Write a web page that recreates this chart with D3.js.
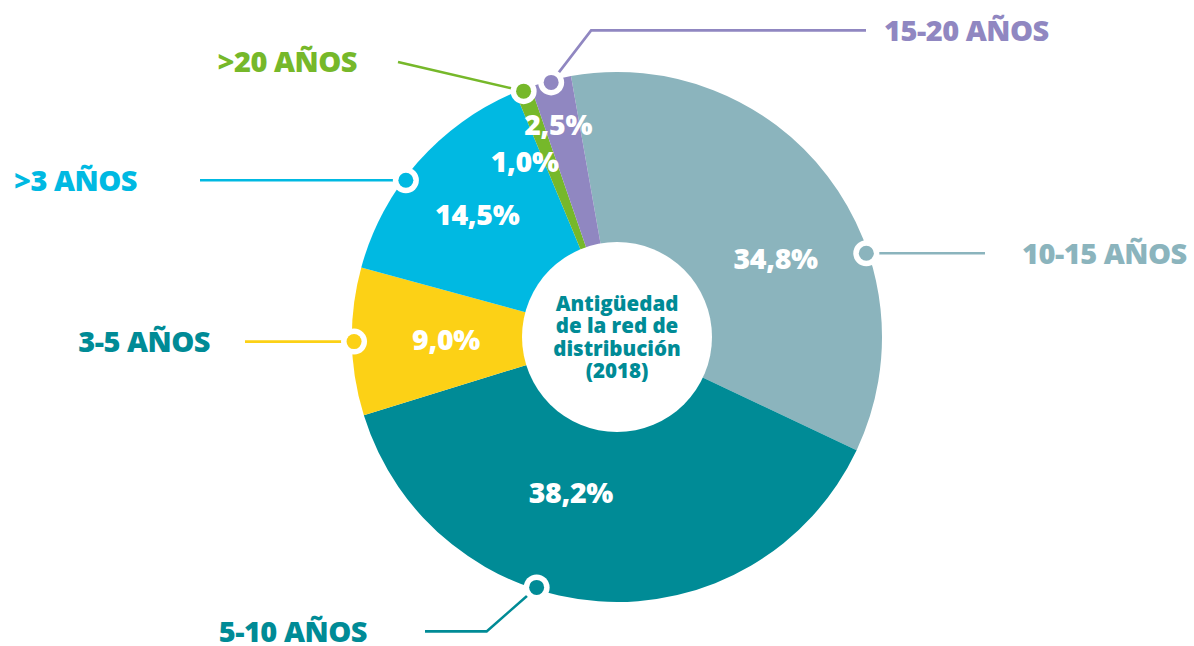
<!DOCTYPE html>
<html>
<head>
<meta charset="utf-8">
<script src="https://cdn.jsdelivr.net/npm/d3@7"></script>
<style>
  body { margin: 0; background: #fff; }
  svg { display: block; font-family: "Open Sans", "Noto Sans", sans-serif; }
</style>
</head>
<body>
<div id="chart"></div>
<script>
// data (clockwise from the top)
const categories = ["10-15 AÑOS", "5-10 AÑOS", "3-5 AÑOS", ">3 AÑOS", ">20 AÑOS", "15-20 AÑOS"];
const shares = [34.8, 38.2, 9.0, 14.5, 1.0, 2.5];
const sliceColors = ["#8bb4bd", "#008b96", "#fcd116", "#00b9e2", "#76b82a", "#9087c1"];
const labelColors = ["#8bb4bd", "#008b96", "#008b96", "#00b9e2", "#76b82a", "#9087c1"];
const centerTitle = ["Antigüedad", "de la red de", "distribución", "(2018)"];

// label layout: marker position along the slice, leader path, text placement,
// and the radius / angle nudge (degrees) of the white percentage
const labelLayout = [
  { t: 0.65, bend: null, endX: 985, endY: null, anchor: "start", textX: 1022, pctR: 177, pctDA: 11 },
  { t: 0.60, bend: [-50, 44], endX: 425, endY: null, anchor: "end", textX: 367, pctR: 162, pctDA: 12.5 },
  { t: 0.50, bend: null, endX: 245, endY: null, anchor: "end", textX: 210, pctR: 171, pctDA: 0 },
  { t: 0.41, bend: null, endX: 200, endY: null, anchor: "end", textX: 137, pctR: 186, pctDA: 0 },
  { t: 0.50, bend: null, endX: 398, endY: 62, anchor: "end", textX: 357, pctR: 198, pctDA: -7 },
  { t: 0.50, bend: [40, -52], endX: 866, endY: null, anchor: "start", textX: 884, pctR: 220, pctDA: -1 }
];

const width = 1194, height = 646;
const cx = 617, cy = 337;
const outerR = 265, innerR = 95;

const svg = d3.select("#chart").append("svg")
  .attr("width", width)
  .attr("height", height);

const g = svg.append("g").attr("transform", `translate(${cx},${cy})`);

const startAngle = -10 * Math.PI / 180;
const pie = d3.pie()
  .value(d => d)
  .sort(null)
  .startAngle(startAngle)
  .endAngle(startAngle + 2 * Math.PI);

const arcs = pie(shares);
const arc = d3.arc().innerRadius(0).outerRadius(outerR);

g.selectAll("path.slice")
  .data(arcs)
  .join("path")
  .attr("class", "slice")
  .attr("d", arc)
  .attr("fill", (d, i) => sliceColors[i]);

// white center
g.append("circle")
  .attr("r", innerR)
  .attr("fill", "#fff");

const fmt = v => d3.format(".1f")(v).replace(".", ",") + "%";
const polar = (a, r) => [r * Math.sin(a), -r * Math.cos(a)];
const rad = deg => deg * Math.PI / 180;

// percentages
g.selectAll("text.pct")
  .data(arcs)
  .join("text")
  .attr("class", "pct")
  .attr("transform", (d, i) => {
    const L = labelLayout[i];
    const p = polar((d.startAngle + d.endAngle) / 2 + rad(L.pctDA), L.pctR);
    return `translate(${p[0]},${p[1]})`;
  })
  .attr("text-anchor", "middle")
  .attr("dy", "0.36em")
  .attr("fill", "#fff")
  .attr("font-size", 28.5)
  .attr("font-weight", 800)
  .attr("letter-spacing", -0.3)
  .text(d => fmt(d.value));

// leader lines + markers + category labels
arcs.forEach((d, i) => {
  const L = labelLayout[i];
  const a = d.startAngle + (d.endAngle - d.startAngle) * L.t;
  const m = polar(a, outerR - 2);
  const pts = [[m[0] + cx, m[1] + cy]];
  if (L.bend) pts.push([pts[0][0] + L.bend[0], pts[0][1] + L.bend[1]]);
  const last = pts[pts.length - 1];
  const endY = L.endY != null ? L.endY : last[1];
  pts.push([L.endX, endY]);

  svg.append("path")
    .attr("d", d3.line()(pts))
    .attr("fill", "none")
    .attr("stroke", sliceColors[i])
    .attr("stroke-width", 2.6);

  svg.append("circle")
    .attr("cx", pts[0][0]).attr("cy", pts[0][1])
    .attr("r", 13)
    .attr("fill", "#fff");
  svg.append("circle")
    .attr("cx", pts[0][0]).attr("cy", pts[0][1])
    .attr("r", 7.5)
    .attr("fill", sliceColors[i]);

  svg.append("text")
    .attr("x", L.textX)
    .attr("y", endY)
    .attr("dy", "0.36em")
    .attr("text-anchor", L.anchor)
    .attr("fill", labelColors[i])
    .attr("font-size", 29)
    .attr("font-weight", 800)
    .attr("letter-spacing", -0.5)
    .text(categories[i]);
});

// center title
g.append("text")
  .attr("text-anchor", "middle")
  .attr("fill", "#008b96")
  .attr("font-size", 20.5)
  .attr("font-weight", 800)
  .selectAll("tspan")
  .data(centerTitle)
  .join("tspan")
  .attr("x", 0)
  .attr("y", (d, i) => (i - 1.5) * 22.5)
  .attr("dy", "0.36em")
  .text(d => d);
</script>
</body>
</html>
